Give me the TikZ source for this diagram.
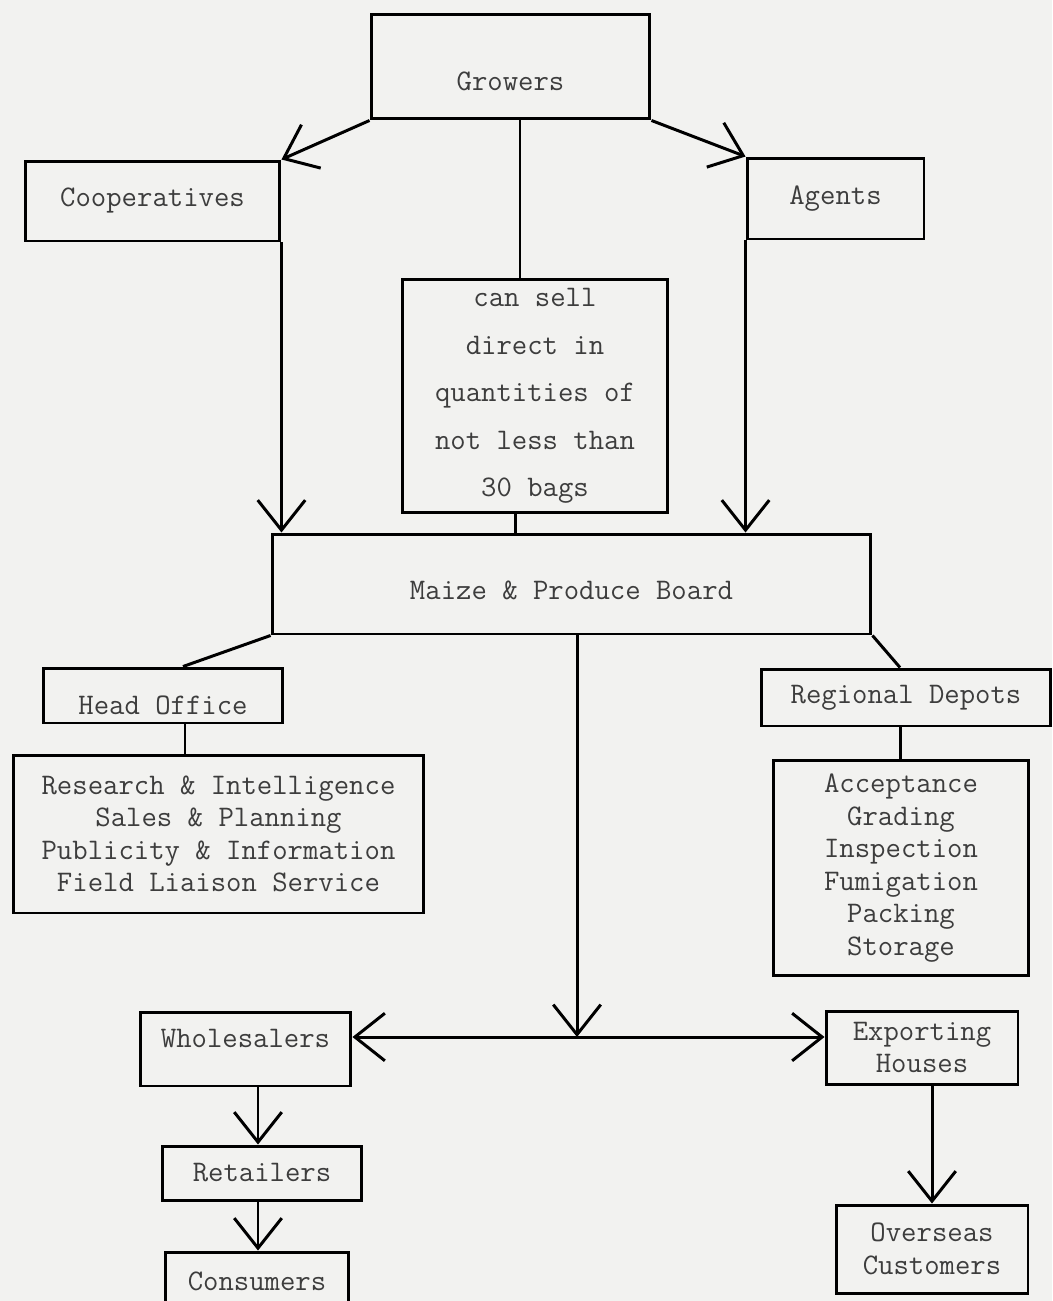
\documentclass[tikz,border=0pt]{standalone}
\usetikzlibrary{arrows.meta}
\definecolor{paper}{rgb}{0.95, 0.95, 0.94}
\definecolor{ink}{rgb}{0.24, 0.24, 0.24}
\tikzset{
  box/.style={draw, line width=1.7pt, inner sep=0pt, align=center, text=ink,
    font=\ttfamily\fontsize{17}{18.5}\selectfont},
  wide/.style={font=\ttfamily\fontsize{17}{27}\selectfont},
  link/.style={line width=1.7pt, line join=round},
  barb/.tip={Straight Barb[length=6mm, width=9.5mm, line width=1.7pt]},
  flow/.style={link, -barb},
  twoway/.style={link, barb-barb}
}

\begin{document}
\begin{tikzpicture}[x=0.02cm, y=-0.02cm]
\fill[paper] (0,0) rectangle (1052,1301);
\useasboundingbox (0,0) rectangle (1052,1301);

% boxes
\node[box, minimum width=5.58cm, minimum height=2.10cm, text height=0.97cm, text depth=0pt] (grow) at (510.5,66.5) {Growers};
\node[box, minimum width=5.10cm, minimum height=1.60cm] (coop) at (152.5,201) {Cooperatives};
\node[box, minimum width=3.54cm, minimum height=1.62cm] (agent) at (835.5,198.5) {Agents};
\node[box, wide, minimum width=5.32cm, minimum height=4.68cm] (sell) at (535,396)
  {can sell\\direct in\\quantities of\\not less than\\30 bags};
\node[box, minimum width=11.98cm, minimum height=2.00cm, text height=0.61cm, text depth=0pt] (maize) at (571.5,584) {Maize \& Produce Board};
\node[box, minimum width=4.80cm, minimum height=1.10cm, text height=0.77cm, text depth=0pt] (head) at (163,695.5) {Head Office};
\node[box, minimum width=8.22cm, minimum height=3.16cm] (research) at (218.5,834)
  {Research \& Intelligence\\Sales \& Planning\\Publicity \& Information\\Field Liaison Service};
\node[box, minimum width=5.80cm, minimum height=1.14cm] (regional) at (906,697.5) {Regional Depots};
\node[box, minimum width=5.12cm, minimum height=4.32cm] (accept) at (901,868)
  {Acceptance\\Grading\\Inspection\\Fumigation\\Packing\\Storage};
\node[box, minimum width=4.22cm, minimum height=1.48cm, text height=0.37cm, text depth=0.44cm] (whole) at (245.5,1049) {Wholesalers};
\node[box, minimum width=3.84cm, minimum height=1.46cm] (export) at (922,1047.5) {Exporting\\Houses};
\node[box, minimum width=4.00cm, minimum height=1.08cm] (retail) at (262,1173) {Retailers};
\node[box, minimum width=3.68cm, minimum height=1.16cm] (consum) at (257,1281) {Consumers};
\node[box, minimum width=3.84cm, minimum height=1.76cm] (overseas) at (932,1249) {Overseas\\Customers};

% junction points
\coordinate (hub) at (577,1037);
\coordinate (down) at (258,0);

% connectors
\draw[flow] (grow.south west) -- (coop.north east);
\draw[flow] (grow.south east) -- (agent.north west);
\draw[link] ([xshift=0.19cm]grow.south) -- ([xshift=0.19cm]grow.south |- sell.north);
\draw[flow] (coop.south east) -- (coop.south east |- maize.north);
\draw[flow] (agent.south west) -- (agent.south west |- maize.north);
\draw[link] ([xshift=-0.4cm]sell.south) -- ([xshift=-0.4cm]sell.south |- maize.north);
\draw[link] (maize.south west) -- ([xshift=0.4cm]head.north);
\draw[link] (maize.south east) -- ([xshift=-0.12cm]regional.north);
\draw[link] ([xshift=0.44cm]head.south) -- ([xshift=0.44cm]head.south |- research.north);
\draw[link] ([xshift=-0.12cm]regional.south) -- ([xshift=-0.12cm]regional.south |- accept.north);
\draw[flow] (hub |- maize.south) -- (hub);
\draw[twoway] (whole.east |- hub) -- (export.west |- hub);
\draw[flow] (down |- whole.south) -- (down |- retail.north);
\draw[flow] (down |- retail.south) -- (down |- consum.north);
\draw[flow] (overseas.north |- export.south) -- (overseas.north);
\end{tikzpicture}
\end{document}
